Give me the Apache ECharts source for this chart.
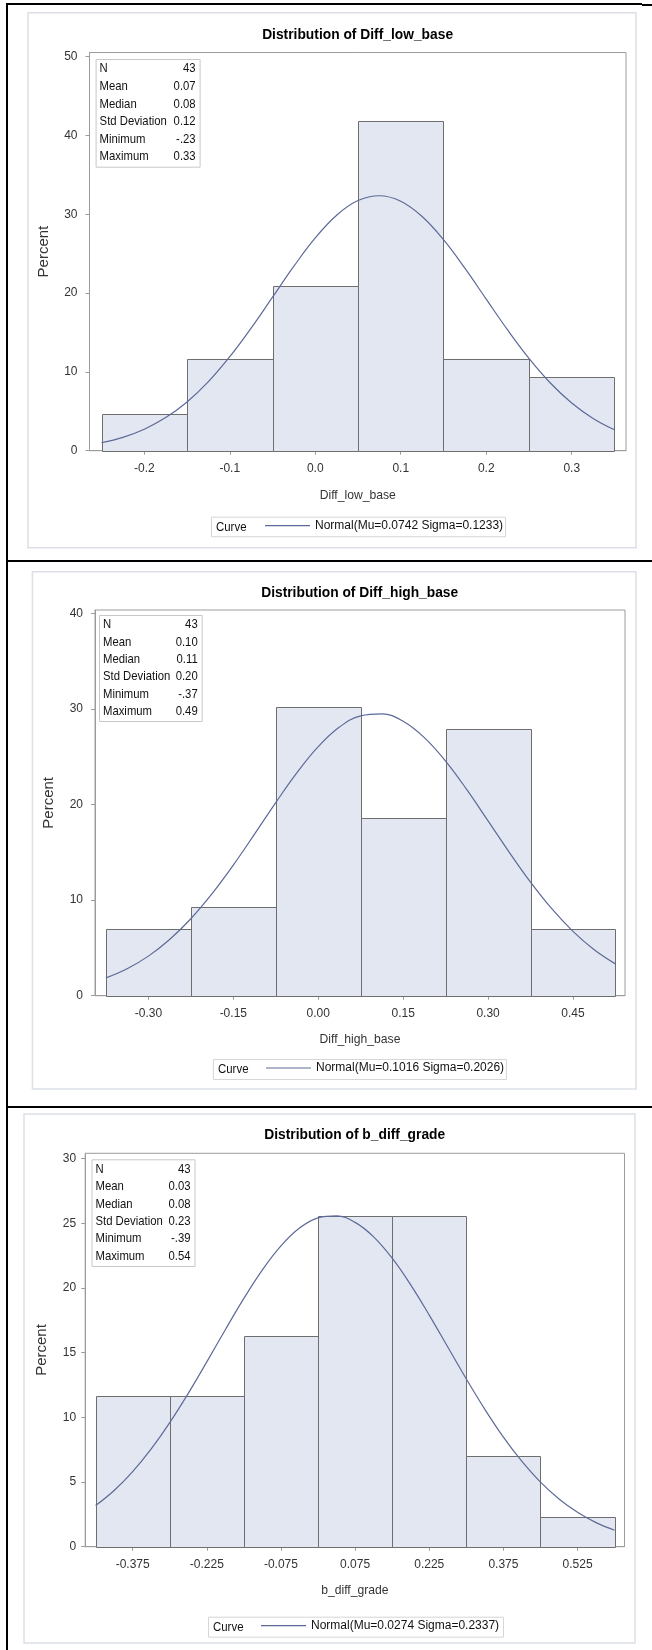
<!DOCTYPE html>
<html><head><meta charset="utf-8">
<script src="https://cdn.jsdelivr.net/npm/echarts@6/dist/echarts.min.js"></script>
<style>html,body{margin:0;padding:0;background:#fff}#c{width:652px;height:1650px}</style>
</head><body><div id="c"></div>
<script>
// ---------------- DATA ----------------
const statLabels = ['N', 'Mean', 'Median', 'Std Deviation', 'Minimum', 'Maximum'];

// Panel 1: Diff_low_base
const p1Title = 'Distribution of Diff_low_base';
const p1XName = 'Diff_low_base';
const p1BinWidth = 0.1;
const p1BinCenters = [-0.2, -0.1, 0.0, 0.1, 0.2, 0.3];
const p1Percents = [4.65, 11.63, 20.93, 41.86, 11.63, 9.30];
const p1XTicks = [-0.2, -0.1, 0.0, 0.1, 0.2, 0.3];
const p1XTickLabels = ['-0.2', '-0.1', '0.0', '0.1', '0.2', '0.3'];
const p1YTicks = [0, 10, 20, 30, 40, 50];
const p1StatValues = ['43', '0.07', '0.08', '0.12', '-.23', '0.33'];
const p1CurveName = 'Normal(Mu=0.0742 Sigma=0.1233)';
const p1CurveX = [-0.25, -0.225, -0.2, -0.175, -0.15, -0.125, -0.1, -0.075, -0.05, -0.025, 0, 0.025, 0.05, 0.075, 0.1, 0.125, 0.15, 0.175, 0.2, 0.225, 0.25, 0.275, 0.3, 0.325, 0.35];
const p1CurveY = [1.02, 1.70, 2.73, 4.20, 6.19, 8.77, 11.93, 15.56, 19.48, 23.41, 27.00, 29.88, 31.74, 32.35, 31.66, 29.72, 26.78, 23.16, 19.23, 15.32, 11.71, 8.59, 6.05, 4.09, 2.65];

// Panel 2: Diff_high_base
const p2Title = 'Distribution of Diff_high_base';
const p2XName = 'Diff_high_base';
const p2BinWidth = 0.15;
const p2BinCenters = [-0.30, -0.15, 0.00, 0.15, 0.30, 0.45];
const p2Percents = [6.98, 9.30, 30.23, 18.60, 27.91, 6.98];
const p2XTicks = [-0.30, -0.15, 0.00, 0.15, 0.30, 0.45];
const p2XTickLabels = ['-0.30', '-0.15', '0.00', '0.15', '0.30', '0.45'];
const p2YTicks = [0, 10, 20, 30, 40];
const p2StatValues = ['43', '0.10', '0.11', '0.20', '-.37', '0.49'];
const p2CurveName = 'Normal(Mu=0.1016 Sigma=0.2026)';
const p2CurveX = [-0.375, -0.3375, -0.3, -0.2625, -0.225, -0.1875, -0.15, -0.1125, -0.075, -0.0375, 0, 0.0375, 0.075, 0.1125, 0.15, 0.1875, 0.225, 0.2625, 0.3, 0.3375, 0.375, 0.4125, 0.45, 0.4875, 0.525];
const p2CurveY = [1.86, 2.82, 4.14, 5.88, 8.05, 10.67, 13.66, 16.90, 20.20, 23.33, 26.05, 28.10, 29.28, 29.49, 28.71, 27.00, 24.54, 21.55, 18.29, 15.00, 11.88, 9.10, 6.73, 4.81, 3.33];

// Panel 3: b_diff_grade
const p3Title = 'Distribution of b_diff_grade';
const p3XName = 'b_diff_grade';
const p3BinWidth = 0.15;
const p3BinCenters = [-0.375, -0.225, -0.075, 0.075, 0.225, 0.375, 0.525];
const p3Percents = [11.63, 11.63, 16.28, 25.58, 25.58, 6.98, 2.33];
const p3XTicks = [-0.375, -0.225, -0.075, 0.075, 0.225, 0.375, 0.525];
const p3XTickLabels = ['-0.375', '-0.225', '-0.075', '0.075', '0.225', '0.375', '0.525'];
const p3YTicks = [0, 5, 10, 15, 20, 25, 30];
const p3StatValues = ['43', '0.03', '0.08', '0.23', '-.39', '0.54'];
const p3CurveName = 'Normal(Mu=0.0274 Sigma=0.2337)';
const p3CurveX = [-0.45, -0.4125, -0.375, -0.3375, -0.3, -0.2625, -0.225, -0.1875, -0.15, -0.1125, -0.075, -0.0375, 0, 0.0375, 0.075, 0.1125, 0.15, 0.1875, 0.225, 0.2625, 0.3, 0.3375, 0.375, 0.4125, 0.45, 0.4875, 0.525, 0.5625, 0.6];
const p3CurveY = [3.18, 4.35, 5.81, 7.57, 9.60, 11.86, 14.29, 16.78, 19.20, 21.41, 23.26, 24.64, 25.43, 25.58, 25.08, 23.96, 22.31, 20.25, 17.91, 15.44, 12.97, 10.62, 8.47, 6.59, 4.99, 3.69, 2.66, 1.86, 1.27];

// ---------------- LAYOUT / STYLE ----------------
const FONT = "'Liberation Sans',Arial,sans-serif";
const BAR_FILL = '#E3E7F1';
const BAR_EDGE = '#6E6E6E';
const CURVE = '#5D6A98';
const AXIS = '#9C9C9C';

const panels = [
  { title: p1Title, xName: p1XName, w: p1BinWidth, centers: p1BinCenters, pct: p1Percents,
    xTicks: p1XTicks, xLabels: p1XTickLabels, yTicks: p1YTicks, stats: p1StatValues,
    curveName: p1CurveName, cx: p1CurveX, cy: p1CurveY,
    grid: { left: 89.5, top: 52.5, width: 536.5, height: 398.2 },
    xMin: -0.2641, xMax: 0.3635, yMax: 50.53, yLabelMargin: 12,
    frame: [28, 12.7, 608, 535], titleXY: [357.6, 35],
    yNameX: 43.7, xNameY: 495,
    statBox: [95.6, 59, 104, 107.7],
    legBox: [211, 516.7, 294, 19.5], curveTextX: 216, legLineX: 265 },
  { title: p2Title, xName: p2XName, w: p2BinWidth, centers: p2BinCenters, pct: p2Percents,
    xTicks: p2XTicks, xLabels: p2XTickLabels, yTicks: p2YTicks, stats: p2StatValues,
    curveName: p2CurveName, cx: p2CurveX, cy: p2CurveY,
    grid: { left: 95, top: 610, width: 530, height: 385.7 },
    xMin: -0.3943, xMax: 0.5419, yMax: 40.35, yLabelMargin: 12,
    frame: [32.4, 571.7, 603.6, 517.3], titleXY: [359.7, 593],
    yNameX: 49, xNameY: 1039,
    statBox: [99, 615, 102.7, 106],
    legBox: [212.9, 1059, 293, 20], curveTextX: 218, legLineX: 266 },
  { title: p3Title, xName: p3XName, w: p3BinWidth, centers: p3BinCenters, pct: p3Percents,
    xTicks: p3XTicks, xLabels: p3XTickLabels, yTicks: p3YTicks, stats: p3StatValues,
    curveName: p3CurveName, cx: p3CurveX, cy: p3CurveY,
    grid: { left: 85.2, top: 1153.3, width: 539.3, height: 393.4 },
    xMin: -0.471, xMax: 0.62, yMax: 30.42, yLabelMargin: 9,
    frame: [24, 1114, 611, 529], titleXY: [354.7, 1135],
    yNameX: 41.6, xNameY: 1590.7,
    statBox: [91.5, 1159.3, 103, 106.7],
    legBox: [208, 1616.7, 295, 20], curveTextX: 213, legLineX: 261 }
];

function histRender(params, api) {
  const c = api.value(0), w = api.value(1), v = api.value(2);
  const a = api.coord([c - w / 2, v]);
  const b = api.coord([c + w / 2, 0]);
  const x0 = Math.round(a[0]) + 0.5, x1 = Math.round(b[0]) + 0.5;
  const y0 = Math.round(a[1]) + 0.5, y1 = Math.round(b[1]) + 0.5;
  return { type: 'rect', shape: { x: x0, y: y0, width: x1 - x0, height: y1 - y0 },
    style: { fill: BAR_FILL, stroke: BAR_EDGE, lineWidth: 1 } };
}

const option = { animation: false, backgroundColor: '#fff',
  grid: [], xAxis: [], yAxis: [], series: [], legend: [], graphic: [] };

const G = option.graphic;
// black table borders
G.push({ type: 'rect', shape: { x: 6, y: 3, width: 2, height: 1647 }, style: { fill: '#000' }, silent: true });
G.push({ type: 'rect', shape: { x: 6, y: 3, width: 636, height: 2 }, style: { fill: '#000' }, silent: true });
G.push({ type: 'rect', shape: { x: 642, y: 4, width: 10, height: 2 }, style: { fill: '#000' }, silent: true });
G.push({ type: 'rect', shape: { x: 6, y: 560, width: 646, height: 2 }, style: { fill: '#000' }, silent: true });
G.push({ type: 'rect', shape: { x: 6, y: 1106, width: 646, height: 2 }, style: { fill: '#000' }, silent: true });

panels.forEach((p, i) => {
  // outer chart frame
  G.push({ type: 'rect', z: -1, shape: { x: p.frame[0], y: p.frame[1], width: p.frame[2], height: p.frame[3] },
    style: { fill: '#fff', stroke: '#DCDFE6', lineWidth: 1.5 }, silent: true });
  // title
  G.push({ type: 'text', x: p.titleXY[0], y: p.titleXY[1], scaleX: 0.92,
    style: { text: p.title, font: 'bold 15px ' + FONT, fill: '#000', align: 'center', verticalAlign: 'middle' } });
  // "Percent" y title
  G.push({ type: 'text', x: p.yNameX, y: p.grid.top + p.grid.height / 2, rotation: Math.PI / 2,
    style: { text: 'Percent', font: '15px ' + FONT, fill: '#333', align: 'center', verticalAlign: 'middle' } });
  // x title
  G.push({ type: 'text', x: p.grid.left + p.grid.width / 2, y: p.xNameY, scaleX: 0.9,
    style: { text: p.xName, font: '13.5px ' + FONT, fill: '#333', align: 'center', verticalAlign: 'middle' } });
  // stats inset
  const sb = p.statBox;
  G.push({ type: 'rect', z: 50, shape: { x: sb[0] + 0.5, y: sb[1] + 0.5, width: sb[2], height: sb[3] },
    style: { fill: '#fff', stroke: '#C8C8C8', lineWidth: 1 } });
  const step = (sb[3] - 2) / 6;
  statLabels.forEach((lab, k) => {
    const yy = sb[1] + 1 + step * (k + 0.5);
    G.push({ type: 'text', z: 51, x: sb[0] + 4, y: yy, scaleX: 0.87,
      style: { text: lab, font: '13px ' + FONT, fill: '#111', align: 'left', verticalAlign: 'middle' } });
    G.push({ type: 'text', z: 51, x: sb[0] + sb[2] - 4, y: yy, scaleX: 0.87,
      style: { text: p.stats[k], font: '13px ' + FONT, fill: '#111', align: 'right', verticalAlign: 'middle' } });
  });
  // legend box + "Curve"
  const lb = p.legBox;
  G.push({ type: 'rect', shape: { x: lb[0] + 0.5, y: lb[1] + 0.5, width: lb[2], height: lb[3] },
    style: { fill: '#fff', stroke: '#D6D6D6', lineWidth: 1 } });
  G.push({ type: 'text', z: 20, x: p.curveTextX, y: lb[1] + lb[3] / 2 + 0.5, scaleX: 0.88,
    style: { text: 'Curve', font: '13px ' + FONT, fill: '#111', align: 'left', verticalAlign: 'middle' } });

  option.grid.push(Object.assign({ show: true, borderColor: AXIS, borderWidth: 1, backgroundColor: 'transparent', containLabel: false }, p.grid));
  const xl = p.xLabels, xt = p.xTicks;
  option.xAxis.push({ type: 'value', gridIndex: i, min: p.xMin, max: p.xMax,
    axisLine: { show: true, onZero: false, lineStyle: { color: AXIS, width: 1 } },
    axisTick: { show: true, customValues: xt, length: 4, lineStyle: { color: AXIS } },
    axisLabel: { customValues: xt, margin: 12, fontSize: 12, fontFamily: FONT, color: '#333',
      formatter: v => { let j = xt.findIndex(t => Math.abs(t - v) < 1e-9); return j >= 0 ? xl[j] : ''; } },
    splitLine: { show: false } });
  const yt = p.yTicks;
  option.yAxis.push({ type: 'value', gridIndex: i, min: 0, max: p.yMax,
    axisLine: { show: true, onZero: false, lineStyle: { color: AXIS, width: 1 } },
    axisTick: { show: true, customValues: yt, length: 4, lineStyle: { color: AXIS } },
    axisLabel: { customValues: yt, margin: p.yLabelMargin, fontSize: 12, fontFamily: FONT, color: '#333',
      formatter: v => String(Math.round(v)) },
    splitLine: { show: false } });
  option.series.push({ type: 'custom', name: 'hist' + i, xAxisIndex: i, yAxisIndex: i,
    renderItem: histRender, encode: { x: 0, y: 2 }, z: 2,
    data: p.centers.map((c, k) => [c, p.w, p.pct[k]]) });
  option.series.push({ type: 'line', name: p.curveName, xAxisIndex: i, yAxisIndex: i,
    data: p.cx.map((x, k) => [x, p.cy[k]]), symbol: 'none', smooth: 0.4, z: 5,
    itemStyle: { color: CURVE }, lineStyle: { color: CURVE, width: 1.2 } });
  option.legend.push({ data: [p.curveName], left: p.legLineX, top: lb[1] + 3, padding: 0,
    icon: 'rect', itemWidth: 45, itemHeight: 1.2, selectedMode: false,
    textStyle: { fontSize: 12, fontFamily: FONT, color: '#111', padding: [0, 0, 0, 0] } });
});

const chart = echarts.init(document.getElementById('c'), null, { renderer: 'canvas' });
chart.setOption(option);
</script></body></html>
